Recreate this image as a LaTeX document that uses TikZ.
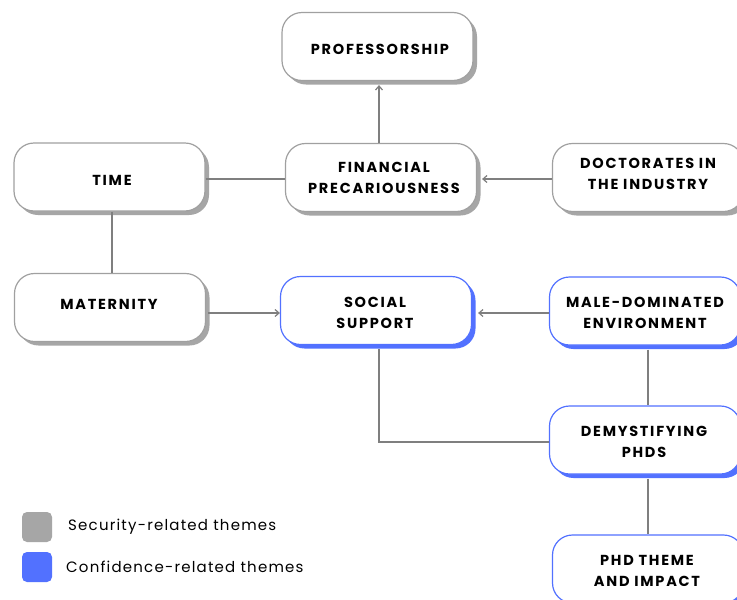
\documentclass[tikz,border=0pt]{standalone}
\usepackage{fontspec}
\setmainfont{Poppins}
\newfontfamily\boxfont{Poppins}[LetterSpace=12]
\newfontfamily\legendfont{Poppins}[LetterSpace=8]
\usetikzlibrary{arrows.meta,shadows}
\definecolor{edgegray}{HTML}{A0A0A0}
\definecolor{shadegray}{HTML}{A6A6A6}
\definecolor{linkgray}{HTML}{7F7F7F}
\definecolor{confblue}{HTML}{5271FF}
\tikzset{
  theme/.style={rounded corners=20pt, fill=white, line width=1.2pt,
    minimum width=191pt, minimum height=68pt, inner sep=0pt},
  security/.style={theme, draw=edgegray,
    general shadow={shadow xshift=4pt, shadow yshift=-4pt, fill=shadegray}},
  confidence/.style={theme, draw=confblue,
    general shadow={shadow xshift=4pt, shadow yshift=-4pt, fill=confblue}},
  caption/.style={align=center, inner sep=0pt, text=black,
    font=\boxfont\bfseries\fontsize{14.5}{21}\selectfont},
  link/.style={draw=linkgray, line width=1.3pt},
  arrowlink/.style={link, -{Straight Barb[length=4pt,width=7pt,line width=1.2pt]}},
  swatch/.style={rounded corners=5pt, minimum width=30pt, minimum height=30pt, inner sep=0pt},
  legendtext/.style={anchor=west, inner sep=0pt, text=black,
    font=\legendfont\fontsize{15}{17}\selectfont}
}
\begin{document}
\begin{tikzpicture}[x=1pt, y=-1pt]
\useasboundingbox (0,0) rectangle (737,600);
\clip (0,0) rectangle (737,600);
\fill[white] (0,0) rectangle (737,600);

% theme boxes
\node[security]   (prof) at (377.5,46.5) {};
\node[security]   (time) at (109.5,177)  {};
\node[security]   (fin)  at (381,177.5)  {};
\node[security]   (doc)  at (648,177.5)  {};
\node[security]   (mat)  at (110,307.5)  {};
\node[confidence] (soc)  at (376,310.5)  {};
\node[confidence] (male) at (645,311)    {};
\node[confidence] (dem)  at (645,440)    {};
\node[confidence] (phd)  at (648,569)    {};

% box captions
\node[caption] (prof-t) at (380,49)    {PROFESSORSHIP};
\node[caption] (time-t) at (112,180)   {TIME};
\node[caption] (fin-t)  at (384,177.5) {FINANCIAL\\PRECARIOUSNESS};
\node[caption] (doc-t)  at (648,173.5) {DOCTORATES IN\\THE INDUSTRY};
\node[caption] (mat-t)  at (109,304)   {MATERNITY};
\node[caption] (soc-t)  at (375,312.5) {SOCIAL\\SUPPORT};
\node[caption] (male-t) at (645,313)   {MALE-DOMINATED\\ENVIRONMENT};
\node[caption] (dem-t)  at (644,442)   {DEMYSTIFYING\\PHDS};
\node[caption] (phd-t)  at (647,571)   {PHD THEME\\AND IMPACT};

% connectors
\coordinate (finrow) at ([yshift=-1.5pt]fin.east);
\coordinate (socrow) at ([yshift=-2.5pt]soc.west);
\draw[arrowlink, shorten >=4pt] ([xshift=-2pt]fin.north) -- ([xshift=-2pt]fin.north |- prof.south);
\draw[link] (time.east |- finrow) -- (fin.west |- finrow);
\draw[arrowlink, shorten >=5pt] (doc.west |- finrow) -- (finrow);
\draw[link] ([xshift=2.5pt]time.south) -- ([xshift=2.5pt]time.south |- mat.north);
\draw[arrowlink, shorten <=2pt] (mat.east |- socrow) -- (socrow);
\draw[arrowlink, shorten >=6pt] (male.west |- socrow) -- (soc.east |- socrow);
\draw[link, shorten <=4pt] ([xshift=3pt]male.south) -- ([xshift=3pt]dem.north);
\draw[link, shorten <=4pt] ([xshift=3pt]soc.south) |- ([yshift=-2pt]dem.west);
\draw[link, shorten <=4pt] ([xshift=3pt]dem.south) -- ([xshift=3pt]dem.south |- phd.north);

% legend
\node[swatch, fill=shadegray] (keysec)  at (37,527) {};
\node[swatch, fill=confblue]  (keyconf) at (37,567) {};
\node[legendtext] (labsec)  at (68,527) {Security-related themes};
\node[legendtext] (labconf) at (66,567) {Confidence-related themes};
\end{tikzpicture}
\end{document}
